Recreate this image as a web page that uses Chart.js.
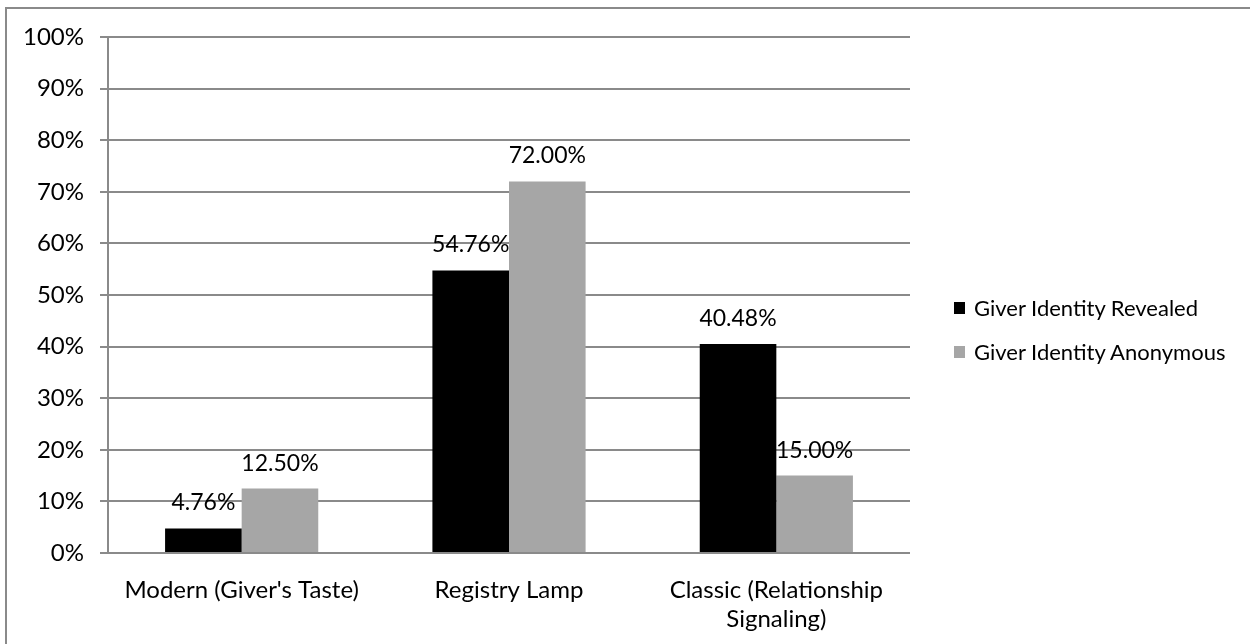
<!DOCTYPE html>
<html>
<head>
<meta charset="utf-8">
<title>Gift choice by giver identity</title>
<script src="https://cdn.jsdelivr.net/npm/chart.js@4"></script>
<style>
  html, body { margin: 0; padding: 0; background: #fff; overflow: hidden; }
  body { width: 1250px; height: 644px; position: relative; font-family: Lato, "Open Sans", sans-serif; }
  #frame {
    position: absolute; left: 5px; top: 7px; width: 1300px; height: 700px;
    border: 2px solid #8a8a8a; box-sizing: border-box;
  }
  #wrap { position: absolute; left: 0; top: 0; width: 1250px; height: 644px; }
  #legend { position: absolute; left: 954px; top: 295px; font-size: 22px; color: #000; }
  .item { display: flex; align-items: center; height: 24px; margin-bottom: 20px; white-space: nowrap; }
  .swatch { width: 11px; height: 12px; margin-right: 9px; margin-top: 2px; }
</style>
</head>
<body>
<div id="frame"></div>
<div id="wrap"><canvas id="giftChart" width="1250" height="644"></canvas></div>
<div id="legend"></div>
<script>
// Share of choices per gift type, in percent
const categories = [
  "Modern (Giver's Taste)",
  "Registry Lamp",
  ["Classic (Relationship", "Signaling)"]
];
const revealedLabel = "Giver Identity Revealed";
const anonymousLabel = "Giver Identity Anonymous";
const revealedValues = [4.76, 54.76, 40.48];
const anonymousValues = [12.5, 72.0, 15.0];

const FONT = "Lato, 'Open Sans', sans-serif";
const GRID = "#8a8a8a";

// Writes the value above each bar
const valueLabels = {
  id: "valueLabels",
  afterDatasetsDraw(chart) {
    const ctx = chart.ctx;
    ctx.save();
    ctx.font = "23px " + FONT;
    ctx.fillStyle = "#000";
    ctx.textAlign = "center";
    ctx.textBaseline = "alphabetic";
    chart.data.datasets.forEach((ds, i) => {
      chart.getDatasetMeta(i).data.forEach((bar, j) => {
        ctx.fillText(ds.data[j].toFixed(2) + "%", bar.x, bar.y - 18);
      });
    });
    ctx.restore();
  }
};

const chart = new Chart(document.getElementById("giftChart"), {
  type: "bar",
  data: {
    labels: categories,
    datasets: [
      { label: revealedLabel, data: revealedValues, backgroundColor: "#000000" },
      { label: anonymousLabel, data: anonymousValues, backgroundColor: "#a6a6a6" }
    ]
  },
  options: {
    responsive: false,
    animation: false,
    events: [],
    layout: { padding: { left: 0, top: 37, right: 340, bottom: 0 } },
    datasets: { bar: { categoryPercentage: 0.573, barPercentage: 1.0 } },
    plugins: {
      legend: { display: false },
      tooltip: { enabled: false }
    },
    scales: {
      x: {
        grid: { display: false, drawTicks: false },
        border: { display: false },
        ticks: {
          color: "#000",
          padding: 23,
          maxRotation: 0,
          autoSkip: false,
          font: { family: FONT, size: 24, lineHeight: 1.2 }
        },
        afterFit(scale) { scale.height = 91; }
      },
      y: {
        min: 0,
        max: 100,
        grid: { color: GRID, lineWidth: 2, tickLength: 8, drawTicks: true },
        border: { display: true, color: GRID, width: 2 },
        ticks: {
          stepSize: 10,
          color: "#000",
          padding: 16,
          font: { family: FONT, size: 24 },
          callback: (v) => v + "%"
        },
        afterFit(scale) { scale.width = 108; }
      }
    }
  },
  plugins: [valueLabels]
});

// Legend beside the plot
const legendBox = document.getElementById("legend");
chart.data.datasets.forEach((ds) => {
  const row = document.createElement("div");
  row.className = "item";
  const sw = document.createElement("span");
  sw.className = "swatch";
  sw.style.background = ds.backgroundColor;
  const txt = document.createElement("span");
  txt.textContent = ds.label;
  row.appendChild(sw);
  row.appendChild(txt);
  legendBox.appendChild(row);
});
</script>
</body>
</html>
